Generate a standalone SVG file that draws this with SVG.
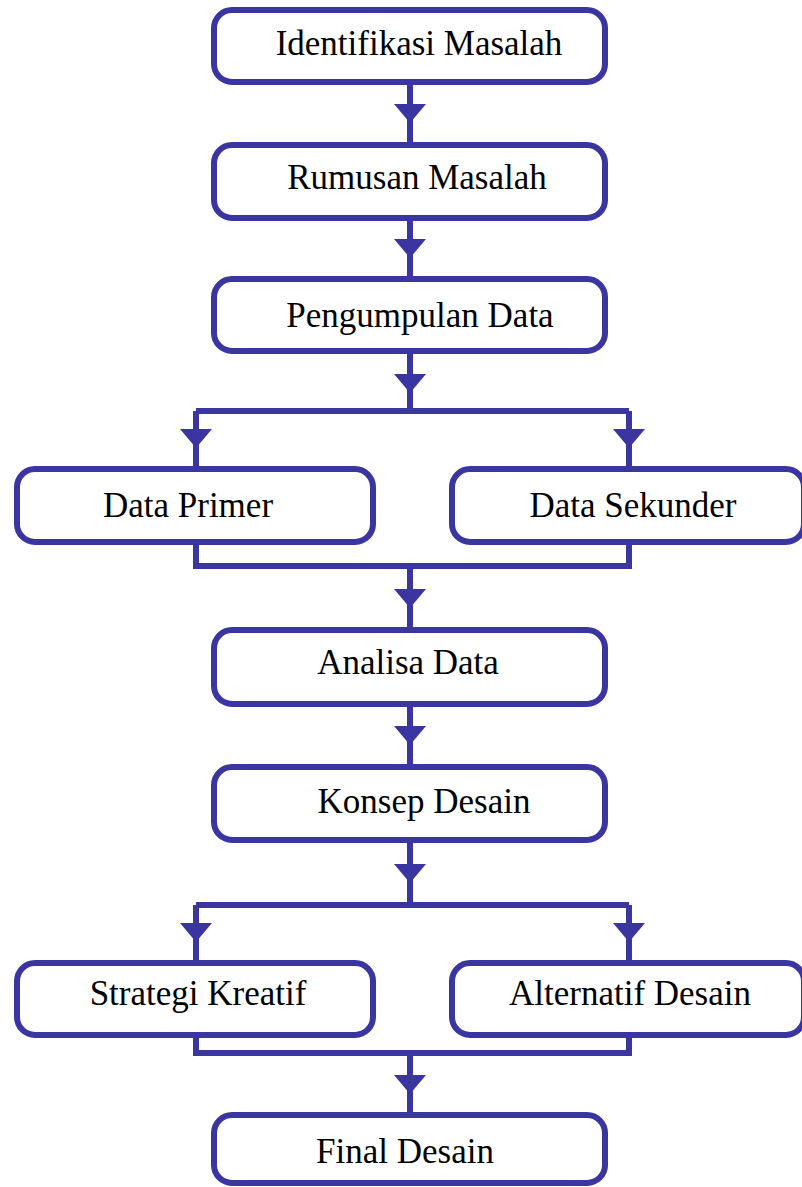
<svg xmlns="http://www.w3.org/2000/svg" width="802" height="1187" viewBox="0 0 802 1187">
<style>
.box{fill:#fff;stroke:#3b35a1;stroke-width:6}
.ln{fill:none;stroke:#3b35a1;stroke-width:6}
.ah{fill:#3b35a1}
text{font-family:"Liberation Serif","Times New Roman",serif;font-size:35px;fill:#000;text-anchor:middle}
</style>
<defs>
<path id="tri" d="M-16,0 L16,0 L0,19 Z"/>
</defs>
<rect width="802" height="1187" fill="#fff"/>
<g id="connectors">
<path class="ln" d="M410,82 V145 M410,218 V279 M410,351 V411 M196,411 H629 M196,411 V469 M629,411 V469 M196,542 V566 H629 V542 M410,566 V630 M410,704 V767 M410,840 V905 M196,905 H629 M196,905 V963 M629,905 V963 M196,1035 V1053 H629 V1035 M410,1053 V1115"/>
<use href="#tri" class="ah" x="410" y="104"/>
<use href="#tri" class="ah" x="410" y="239"/>
<use href="#tri" class="ah" x="410" y="374"/>
<use href="#tri" class="ah" x="196" y="429"/>
<use href="#tri" class="ah" x="629" y="429"/>
<use href="#tri" class="ah" x="410" y="589"/>
<use href="#tri" class="ah" x="410" y="726"/>
<use href="#tri" class="ah" x="410" y="864"/>
<use href="#tri" class="ah" x="196" y="923"/>
<use href="#tri" class="ah" x="629" y="923"/>
<use href="#tri" class="ah" x="410" y="1075"/>
</g>
<g id="n1"><rect class="box" x="214" y="10" width="391" height="72" rx="18"/><text x="419" y="55">Identifikasi Masalah</text></g>
<g id="n2"><rect class="box" x="214" y="145" width="391" height="73" rx="18"/><text x="417" y="189">Rumusan Masalah</text></g>
<g id="n3"><rect class="box" x="214" y="279" width="391" height="72" rx="18"/><text x="420" y="327">Pengumpulan Data</text></g>
<g id="n4"><rect class="box" x="17" y="469" width="356" height="73" rx="18"/><text x="188" y="517">Data Primer</text></g>
<g id="n5"><rect class="box" x="452" y="469" width="352" height="73" rx="18"/><text x="633" y="517">Data Sekunder</text></g>
<g id="n6"><rect class="box" x="214" y="630" width="391" height="74" rx="18"/><text x="408" y="674">Analisa Data</text></g>
<g id="n7"><rect class="box" x="214" y="767" width="391" height="73" rx="18"/><text x="424" y="813">Konsep Desain</text></g>
<g id="n8"><rect class="box" x="17" y="963" width="356" height="72" rx="18"/><text x="198" y="1005">Strategi Kreatif</text></g>
<g id="n9"><rect class="box" x="452" y="963" width="352" height="72" rx="18"/><text x="630" y="1005">Alternatif Desain</text></g>
<g id="n10"><rect class="box" x="214" y="1115" width="391" height="68" rx="18"/><text x="405" y="1163">Final Desain</text></g>
</svg>
